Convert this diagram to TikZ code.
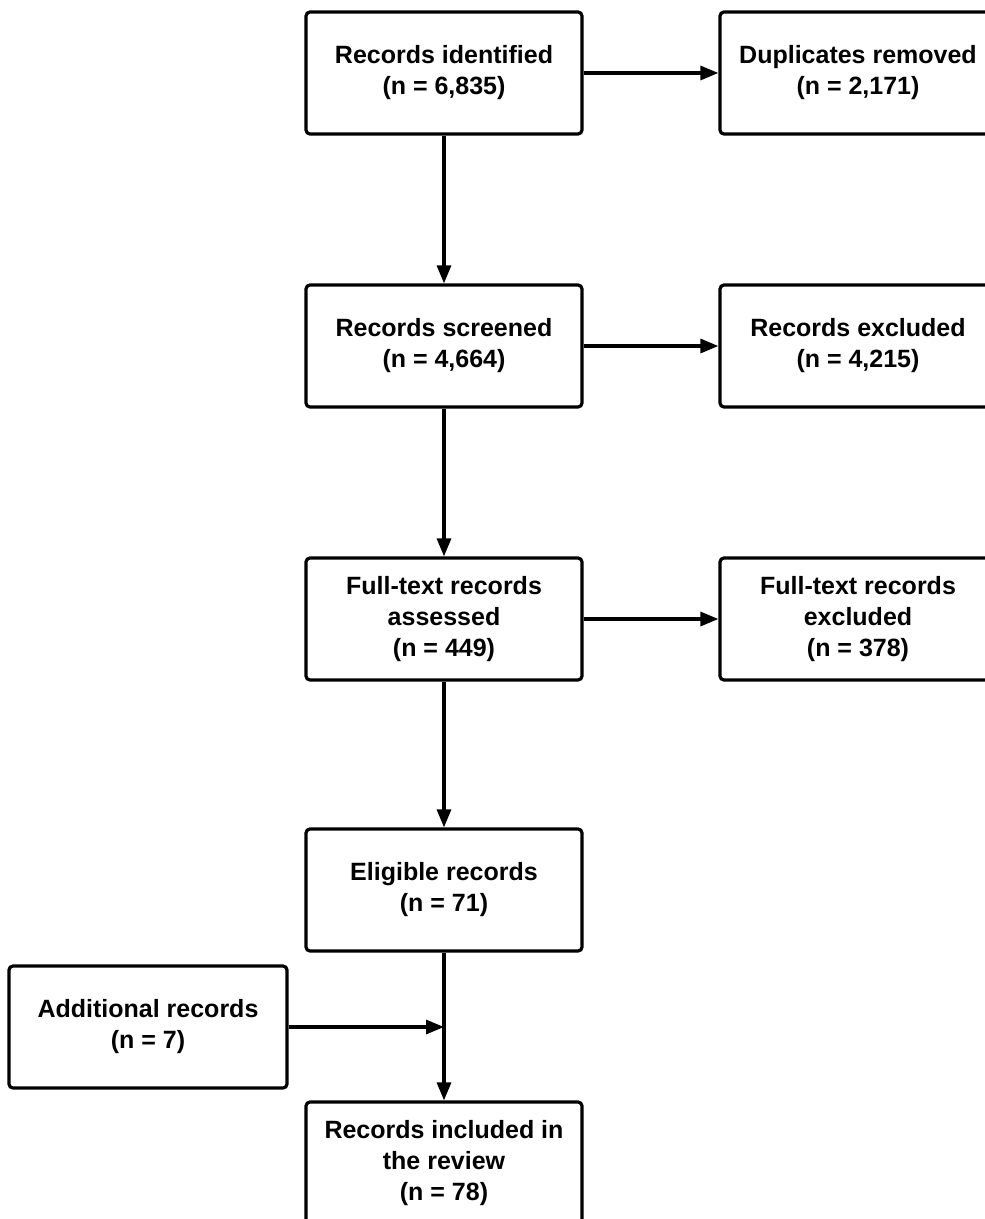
\documentclass[tikz,border=0pt]{standalone}
\usepackage{fontspec}
\setmainfont{Liberation Sans}
\usetikzlibrary{arrows.meta}
\begin{document}
\begin{tikzpicture}[x=1pt,y=-1pt,
  box/.style={draw=black, line width=3.2pt, rounded corners=4pt, fill=white,
    minimum width=276pt, minimum height=122pt, align=center, inner sep=0pt,
    font=\fontsize{25}{31}\selectfont\bfseries, text=black},
  flow/.style={line width=3.2pt, -{Triangle[length=18pt,width=14pt]}}]
\useasboundingbox (0,0) rectangle (985,1219);
\fill[white] (0,0) rectangle (985,1219);
\clip (0,0) rectangle (985,1219);
\node[box] (ident) at (444,73) {Records identified\\(n = 6,835)};
\node[box] (dup) at (858,73) {Duplicates removed\\(n = 2,171)};
\node[box] (screen) at (444,346) {Records screened\\(n = 4,664)};
\node[box] (excl) at (858,346) {Records excluded\\(n = 4,215)};
\node[box] (full) at (444,619) {Full-text records\\assessed\\(n = 449)};
\node[box] (fullex) at (858,619) {Full-text records\\excluded\\(n = 378)};
\node[box] (elig) at (444,890) {Eligible records\\(n = 71)};
\node[box, minimum width=278pt] (add) at (148,1027) {Additional records\\(n = 7)};
\node[box] (incl) at (444,1163) {Records included in\\the review\\(n = 78)};
\coordinate (join) at (elig.south |- add.east);
\draw[flow] (ident) -- (dup);
\draw[flow] (ident) -- (screen);
\draw[flow] (screen) -- (excl);
\draw[flow] (screen) -- (full);
\draw[flow] (full) -- (fullex);
\draw[flow] (full) -- (elig);
\draw[flow] (elig) -- (incl);
\draw[flow] (add) -- (join);
\end{tikzpicture}
\end{document}
